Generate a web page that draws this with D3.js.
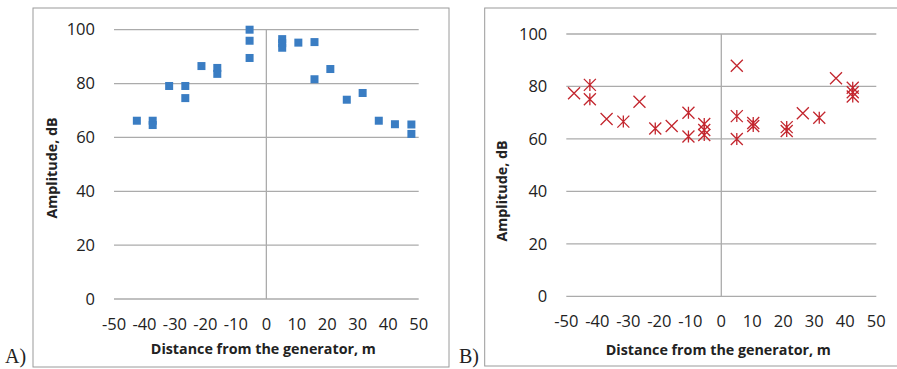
<!DOCTYPE html>
<html>
<head>
<meta charset="utf-8">
<script src="https://cdn.jsdelivr.net/npm/d3@7"></script>
<style>
  body { margin: 0; background: #fff; }
  text { font-family: "Open Sans", sans-serif; fill: #222; }
</style>
</head>
<body>
<script>
// Panel A: amplitude vs distance (squares)
const distA = [-42.5, -37.3, -37.3, -31.9, -26.6, -26.6, -21.3, -16.1, -16.1, -5.5, -5.5, -5.5,
  5.2, 5.2, 5.2, 10.5, 15.8, 15.8, 21.0, 26.4, 31.6, 36.9, 42.2, 47.6, 47.6];
const ampA = [66.2, 66.2, 64.6, 79.1, 79.1, 74.6, 86.5, 85.8, 83.6, 100, 95.9, 89.5,
  96.5, 95, 93.3, 95.2, 95.4, 81.6, 85.4, 74.0, 76.5, 66.2, 64.9, 64.8, 61.3];

// Panel B: x markers
const distBx = [-47.5, -37, -26.4, -16, 5, 26.3, 37];
const ampBx = [77.4, 67.6, 74.2, 64.9, 87.9, 69.8, 83.1];
// Panel B: star markers
const distBs = [-42.4, -42.4, -31.6, -21.3, -10.6, -10.6, -5.5, -5.5, -5.5, 5, 5,
  10.3, 10.3, 21.1, 21.1, 31.6, 42.4, 42.4, 42.4];
const ampBs = [80.6, 75.1, 66.6, 64.0, 70.0, 60.9, 65.7, 63.4, 61.5, 68.7, 60.0,
  66.1, 64.9, 64.5, 63.0, 68.1, 79.5, 77.8, 76.2];

const xTicks = [-50, -40, -30, -20, -10, 0, 10, 20, 30, 40, 50];
const yTicks = [0, 20, 40, 60, 80, 100];
const xTitle = "Distance from the generator, m";
const yTitle = "Amplitude, dB";

const svg = d3.select("body").append("svg")
  .attr("width", 897).attr("height", 369);

function panel(cfg) {
  const g = svg.append("g");
  g.append("rect")
    .attr("x", cfg.frame[0]).attr("y", cfg.frame[1])
    .attr("width", cfg.frame[2]).attr("height", cfg.frame[3])
    .attr("fill", "none").attr("stroke", "#9a9a9a").attr("stroke-width", 1);

  const x = d3.scaleLinear().domain([-50, 50]).range(cfg.xr);
  const y = d3.scaleLinear().domain([0, 100]).range(cfg.yr);

  // horizontal gridlines
  g.append("g").selectAll("line").data(yTicks).join("line")
    .attr("x1", x(-50)).attr("x2", x(50))
    .attr("y1", d => y(d)).attr("y2", d => y(d))
    .attr("stroke", "#ababab").attr("stroke-width", 1.3);
  // vertical axis at x=0
  g.append("line")
    .attr("x1", x(0)).attr("x2", x(0)).attr("y1", y(0)).attr("y2", y(100))
    .attr("stroke", "#ababab").attr("stroke-width", 1.3);

  g.append("g").selectAll("text").data(yTicks).join("text")
    .attr("x", x(-50) - 19).attr("y", d => y(d)).attr("dy", "0.35em")
    .attr("text-anchor", "end").attr("font-size", 16.5).text(d => d);
  g.append("g").selectAll("text").data(xTicks).join("text")
    .attr("x", d => x(d)).attr("y", cfg.xLabY).attr("dy", "0.35em")
    .attr("text-anchor", "middle").attr("font-size", 16.5).text(d => d);

  g.append("text")
    .attr("x", (x(-50) + x(50)) / 2 + cfg.xTitleDx).attr("y", cfg.xTitleY).attr("dy", "0.35em")
    .attr("text-anchor", "middle").attr("font-size", 14.3).attr("font-weight", "bold")
    .text(xTitle);
  g.append("text")
    .attr("transform", `translate(${cfg.yTitleX},${cfg.yTitleY}) rotate(-90)`)
    .attr("dy", "0.35em")
    .attr("text-anchor", "middle").attr("font-size", 14.3).attr("font-weight", "bold")
    .text(yTitle);

  g.append("text")
    .attr("x", cfg.tag[0]).attr("y", cfg.tag[1])
    .attr("font-size", 20)
    .style("font-family", "'Liberation Serif', serif")
    .text(cfg.tagText);

  return { g, x, y };
}

// Panel A
const A = panel({
  frame: [33, 8, 416, 359], xr: [114, 418.7], yr: [299, 29.7],
  xLabY: 324, xTitleY: 349, xTitleDx: -3, yTitleX: 52, yTitleY: 168,
  tag: [5, 363], tagText: "A)"
});
A.g.append("g").selectAll("rect").data(distA.map((d, i) => [d, ampA[i]])).join("rect")
  .attr("x", d => A.x(d[0]) - 4).attr("y", d => A.y(d[1]) - 4)
  .attr("width", 8).attr("height", 8)
  .attr("fill", "#3a7dc3");

// Panel B
const B = panel({
  frame: [484.7, 8, 420, 358], xr: [566.3, 876.3], yr: [296.3, 34],
  xLabY: 321.5, xTitleY: 350, xTitleDx: -3, yTitleX: 501.7, yTitleY: 191,
  tag: [459, 363], tagText: "B)"
});
const h = 6;
const red = "#c3262e";
B.g.append("g").selectAll("path").data(distBx.map((d, i) => [d, ampBx[i]])).join("path")
  .attr("d", d => {
    const cx = B.x(d[0]), cy = B.y(d[1]);
    return `M${cx - h},${cy - h}L${cx + h},${cy + h}M${cx - h},${cy + h}L${cx + h},${cy - h}`;
  })
  .attr("stroke", red).attr("stroke-width", 1.3).attr("fill", "none");
B.g.append("g").selectAll("path").data(distBs.map((d, i) => [d, ampBs[i]])).join("path")
  .attr("d", d => {
    const cx = B.x(d[0]), cy = B.y(d[1]);
    return `M${cx - h},${cy - h}L${cx + h},${cy + h}M${cx - h},${cy + h}L${cx + h},${cy - h}` +
      `M${cx},${cy - h}L${cx},${cy + h}`;
  })
  .attr("stroke", red).attr("stroke-width", 1.3).attr("fill", "none");
</script>
</body>
</html>
